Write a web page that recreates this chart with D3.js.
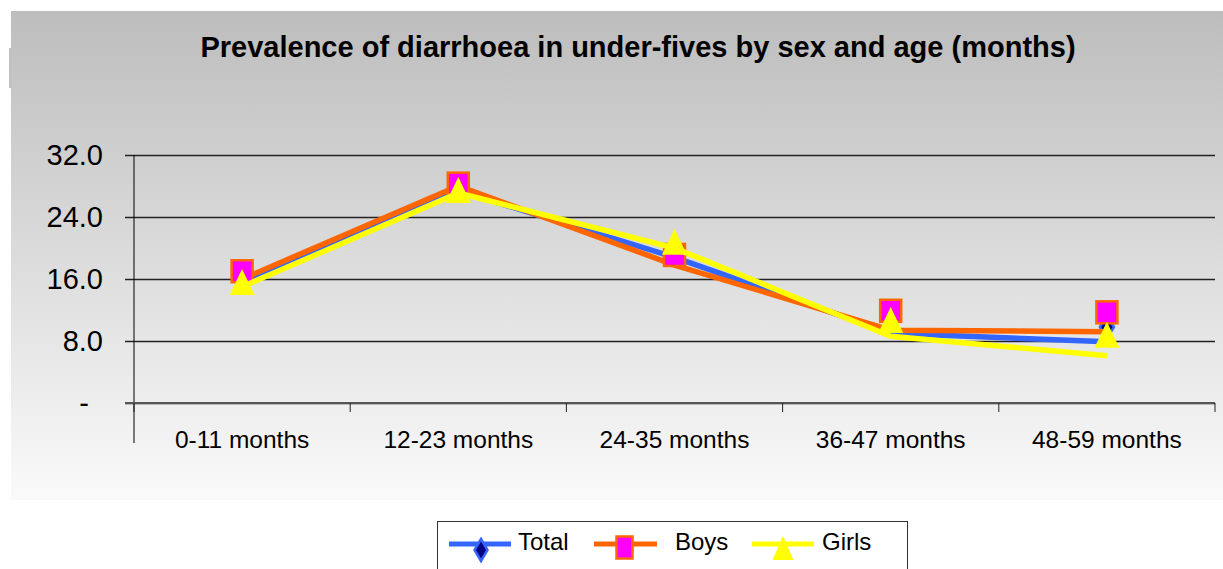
<!DOCTYPE html>
<html>
<head>
<meta charset="utf-8">
<script src="https://cdn.jsdelivr.net/npm/d3@7"></script>
<style>
  html, body { margin: 0; padding: 0; background: #ffffff; }
  svg { display: block; font-family: "Liberation Sans", Arial, sans-serif; }
</style>
</head>
<body>
<svg id="chart" width="1223" height="569"></svg>
<script>
// ---- data ----
const title = "Prevalence of diarrhoea in under-fives by sex and age (months)";
const categories = ["0-11 months", "12-23 months", "24-35 months", "36-47 months", "48-59 months"];
const yTicks = [0, 8, 16, 24, 32];
const seriesNames = ["Total", "Boys", "Girls"];
// line vertices
const totalLine = [15.5, 27.4, 18.8, 9.0, 7.9];
const boysLine  = [16.0, 28.0, 17.8, 9.4, 9.2];
const girlsLine = [15.0, 27.1, 20.0, 8.6, 6.1];
// marker positions (drawn slightly apart from the lines in the reference)
const totalMarkers = [16.0, 27.8, 19.6, 11.0, 9.8];
const boysMarkers  = [17.0, 28.3, 19.1, 11.9, 11.7];
const girlsMarkers = [15.6, 27.5, 20.8, 10.7, 8.8];

// ---- styling ----
const colors = { Total: "#3366FF", Boys: "#FF6600", Girls: "#FFFF00" };
const series = [
  { name: "Total", line: totalLine, markers: totalMarkers },
  { name: "Boys",  line: boysLine,  markers: boysMarkers },
  { name: "Girls", line: girlsLine, markers: girlsMarkers }
];

const svg = d3.select("#chart");

// background panel with vertical gradient
const defs = svg.append("defs");
const grad = defs.append("linearGradient").attr("id", "bg").attr("x1", 0).attr("y1", 0).attr("x2", 0).attr("y2", 1);
grad.append("stop").attr("offset", "0%").attr("stop-color", "#BDBDBD");
grad.append("stop").attr("offset", "100%").attr("stop-color", "#FAFAFA");
svg.append("rect").attr("x", 9).attr("y", 48).attr("width", 4).attr("height", 40).attr("fill", "#C0C0C0");
svg.append("rect").attr("x", 11).attr("y", 11).attr("width", 1212).attr("height", 489).attr("fill", "url(#bg)");

// title
svg.append("text")
  .attr("x", 638).attr("y", 57)
  .attr("text-anchor", "middle")
  .attr("font-size", 29).attr("font-weight", "bold").attr("fill", "#000")
  .text(title);

// scales
const x = d3.scaleBand().domain(categories).range([134, 1215]);
const y = d3.scaleLinear().domain([0, 32]).range([403, 155]);
const cx = d => x(d) + x.bandwidth() / 2;

// gridlines + y axis ticks
const yAxis = d3.axisLeft(y).tickValues(yTicks).tickSize(-(1215 - 134)).tickFormat(d => d === 0 ? "-" : d3.format(".1f")(d));
const gy = svg.append("g").attr("transform", "translate(134,0)").call(yAxis);
gy.select(".domain").remove();
gy.selectAll(".tick line").attr("x1", -9).attr("stroke", "#222").attr("stroke-width", 1.3);
gy.selectAll(".tick text")
  .attr("x", d => d === 0 ? -45 : -31)
  .attr("font-size", 29).attr("fill", "#000")
  .attr("font-family", "Liberation Sans, Arial, sans-serif");

// y axis vertical line
svg.append("line").attr("x1", 134).attr("x2", 134).attr("y1", 155).attr("y2", 443).attr("stroke", "#000").attr("stroke-width", 1);

// x axis
const gx = svg.append("g").attr("transform", "translate(0,403)");
gx.append("line").attr("x1", 125).attr("x2", 1215).attr("y1", 0).attr("y2", 0).attr("stroke", "#555").attr("stroke-width", 2);
const bounds = categories.map(c => x(c)).concat([x(categories[categories.length - 1]) + x.bandwidth()]);
gx.selectAll("line.tk").data(bounds).enter().append("line").attr("class", "tk")
  .attr("x1", d => d).attr("x2", d => d).attr("y1", 0).attr("y2", 9).attr("stroke", "#222").attr("stroke-width", 1);
gx.selectAll("text").data(categories).enter().append("text")
  .attr("x", d => cx(d)).attr("y", 45)
  .attr("text-anchor", "middle").attr("font-size", 24.5).attr("fill", "#000")
  .text(d => d);

// marker shapes
function diamondPath(w, h) { return `M0,${-h/2}L${w/2},0L0,${h/2}L${-w/2},0Z`; }
function trianglePath(w, h) { return `M0,${-h/2}L${w/2},${h/2}L${-w/2},${h/2}Z`; }
function drawMarker(g, name, px, py, legend) {
  if (name === "Total") {
    g.append("path").attr("transform", `translate(${px},${py})`)
      .attr("d", diamondPath(legend ? 13 : 14, legend ? 22 : 23))
      .attr("fill", "#000080").attr("stroke", "#3366FF").attr("stroke-width", 2.5);
  } else if (name === "Boys") {
    const w = legend ? 16 : 21, h = legend ? 22 : 22;
    g.append("rect").attr("x", px - w / 2).attr("y", py - h / 2).attr("width", w).attr("height", h)
      .attr("fill", "#FF00FF").attr("stroke", "#FF6600").attr("stroke-width", 2.5);
  } else {
    g.append("path").attr("transform", `translate(${px},${py})`)
      .attr("d", trianglePath(legend ? 21 : 25, legend ? 24 : 26))
      .attr("fill", "#FFFF00");
  }
}

// lines and markers
const lineGen = d3.line().x((d, i) => cx(categories[i])).y(d => y(d));
const plot = svg.append("g");
series.forEach(s => {
  const g = plot.append("g");
  g.append("path").datum(s.line).attr("d", lineGen)
    .attr("fill", "none").attr("stroke", colors[s.name]).attr("stroke-width", 5.5)
    .attr("stroke-linejoin", "miter");
  s.markers.forEach((v, i) => drawMarker(g, s.name, cx(categories[i]), y(v), false));
});

// legend
const lg = svg.append("g");
lg.append("rect").attr("x", 437.5).attr("y", 521.5).attr("width", 470).attr("height", 60)
  .attr("fill", "#fff").attr("stroke", "#333").attr("stroke-width", 1);
const legendItems = [
  { name: "Total", x0: 449, x1: 511, mx: 481, my: 550, tx: 518 },
  { name: "Boys",  x0: 594, x1: 657, mx: 624.5, my: 547.5, tx: 675 },
  { name: "Girls", x0: 752, x1: 814, mx: 783, my: 548, tx: 822 }
];
legendItems.forEach(it => {
  lg.append("line").attr("x1", it.x0).attr("x2", it.x1).attr("y1", 544).attr("y2", 544)
    .attr("stroke", colors[it.name]).attr("stroke-width", 5);
  drawMarker(lg, it.name, it.mx, it.my, true);
  lg.append("text").attr("x", it.tx).attr("y", 550).attr("font-size", 24).attr("fill", "#000").text(it.name);
});
</script>
</body>
</html>
